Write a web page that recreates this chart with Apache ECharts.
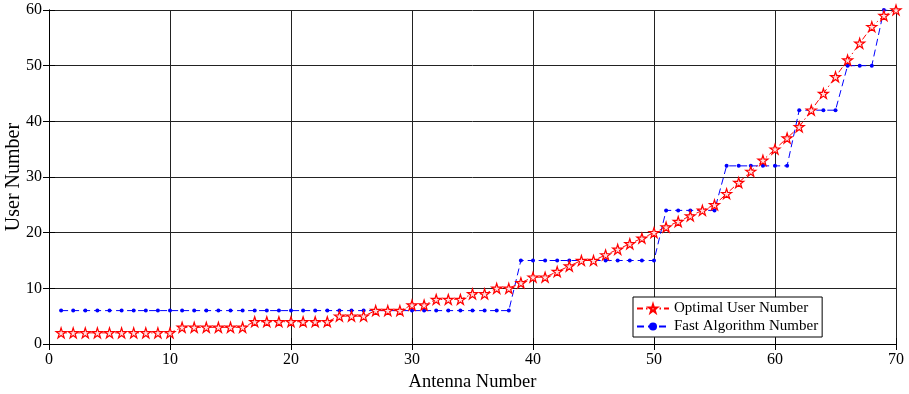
<!DOCTYPE html>
<html>
<head>
<meta charset="utf-8">
<script src="https://cdn.jsdelivr.net/npm/echarts@6/dist/echarts.min.js"></script>
<style>html,body{margin:0;padding:0;background:#fff;}#c{width:909px;height:394px;}</style>
</head>
<body>
<div id="c"></div>
<script>
var antenna = [];
for (var i = 1; i <= 70; i++) antenna.push(i);
var optimalUsers = [2,2,2,2,2,2,2,2,2,2,
  3,3,3,3,3,3,4,4,4,4,
  4,4,4,5,5,5,6,6,6,7,
  7,8,8,8,9,9,10,10,11,12,
  12,13,14,15,15,16,17,18,19,20,
  21,22,23,24,25,27,29,31,33,35,
  37,39,42,45,48,51,54,57,59,60];
var fastUsers = [6,6,6,6,6,6,6,6,6,6,
  6,6,6,6,6,6,6,6,6,6,
  6,6,6,6,6,6,6,6,6,6,
  6,6,6,6,6,6,6,6,15,15,
  15,15,15,15,15,15,15,15,15,15,
  24,24,24,24,24,32,32,32,32,32,
  32,42,42,42,42,50,50,50,60,60];
var xTicks = [0,10,20,30,40,50,60,70];
var yTicks = [0,10,20,30,40,50,60];

var star = 'path://M50,0 L61.8,36.2 L100,36.2 L69.1,58.6 L80.9,95 L50,72.6 L19.1,95 L30.9,58.6 L0,36.2 L38.2,36.2 Z';
var font = 'Liberation Serif';
var chart = echarts.init(document.getElementById('c'));
function pair(a){ return antenna.map(function(x,i){return [x,a[i]];}); }
var axisLineStyle = {show:true, lineStyle:{color:'#000', width:1}};
chart.setOption({
  animation:false,
  textStyle:{fontFamily:font},
  grid:{left:49, right:13, top:10, bottom:50, show:false, outerBoundsMode:'none', containLabel:false},
  legend:{
    left:633, top:297, orient:'vertical', itemGap:3, itemWidth:32, itemHeight:10,
    padding:[4,4,3,3],
    backgroundColor:'#fff', borderColor:'#000', borderWidth:1,
    textStyle:{fontFamily:font, fontSize:15, color:'#000'},
    data:['Optimal User Number','Fast Algorithm Number']
  },
  xAxis:[{
    type:'value', min:0, max:70, interval:10,
    name:'Antenna Number', nameLocation:'middle', nameGap:29, nameMoveOverlap:false,
    nameTextStyle:{fontFamily:font, fontSize:18.5, color:'#000'},
    axisLine:axisLineStyle,
    axisTick:{show:true, inside:true, length:6, lineStyle:{color:'#000'}},
    axisLabel:{fontFamily:font, fontSize:16, color:'#000', margin:8},
    splitLine:{show:true, lineStyle:{color:'#222', width:1}}
  },{
    type:'value', min:0, max:70, interval:10, position:'top',
    axisLine:axisLineStyle,
    axisTick:{show:true, inside:true, length:6, lineStyle:{color:'#000'}},
    axisLabel:{show:false}, splitLine:{show:false}
  }],
  yAxis:[{
    type:'value', min:0, max:60, interval:10,
    name:'User Number', nameLocation:'middle', nameGap:25, nameMoveOverlap:false,
    nameTextStyle:{fontFamily:font, fontSize:20, color:'#000'},
    axisLine:axisLineStyle,
    axisTick:{show:true, inside:true, length:6, lineStyle:{color:'#000'}},
    axisLabel:{fontFamily:font, fontSize:16, color:'#000', margin:7},
    splitLine:{show:true, lineStyle:{color:'#222', width:1}}
  },{
    type:'value', min:0, max:60, interval:10, position:'right',
    axisLine:axisLineStyle,
    axisTick:{show:true, inside:true, length:6, lineStyle:{color:'#000'}},
    axisLabel:{show:false}, splitLine:{show:false}
  }],
  series:[{
    name:'Optimal User Number', type:'line', data:pair(optimalUsers),
    symbol:star, symbolSize:10, showAllSymbol:true,
    lineStyle:{color:'#ff0000', width:1, type:[6,3,1.5,3]},
    itemStyle:{color:'#ffe0e0', borderColor:'#ff0000', borderWidth:1.2},
    z:3
  },{
    name:'Fast Algorithm Number', type:'line', data:pair(fastUsers),
    symbol:'circle', symbolSize:4, showAllSymbol:true,
    lineStyle:{color:'#0000ff', width:1, type:[7,4]},
    itemStyle:{color:'#0000ff', borderColor:'#0000ff', borderWidth:0},
    z:2
  }]
});
</script>
</body>
</html>
